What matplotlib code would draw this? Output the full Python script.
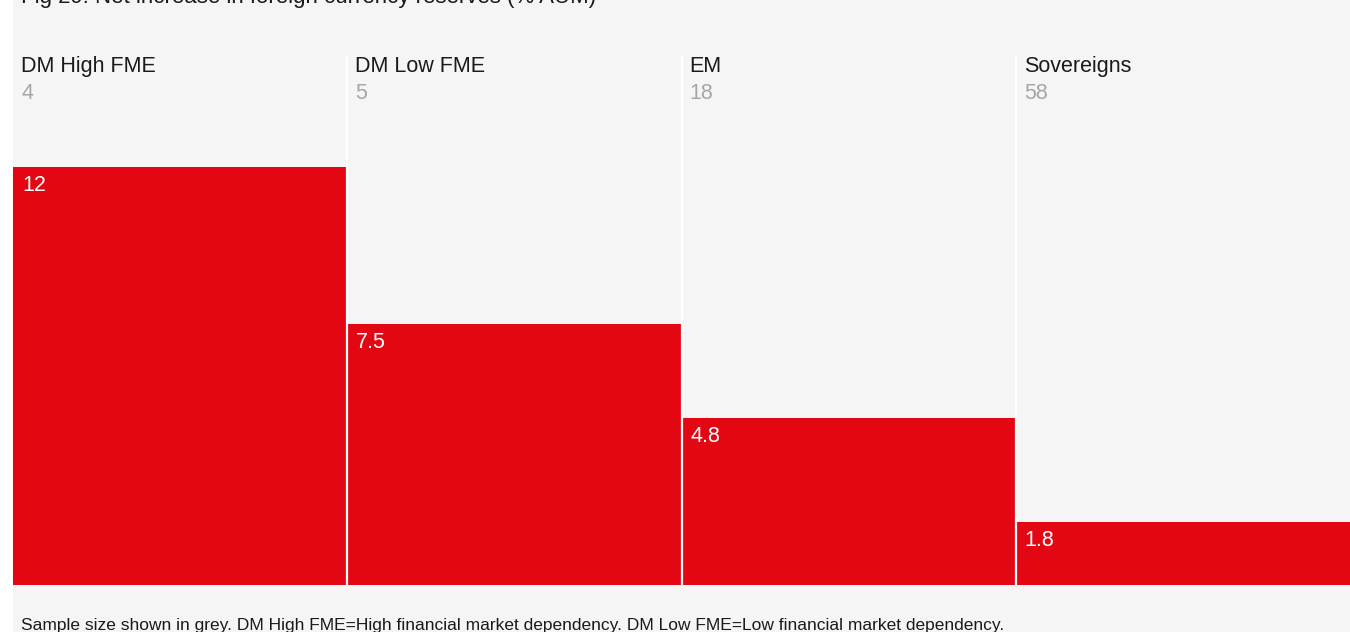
import matplotlib
matplotlib.use("Agg")
import matplotlib.pyplot as plt
from matplotlib.patches import Rectangle
import matplotlib.font_manager as fm

categories = ["DM High FME", "DM Low FME", "EM", "Sovereigns"]
sample_sizes = [4, 5, 18, 58]
values = [12, 7.5, 4.8, 1.8]
value_labels = ["12", "7.5", "4.8", "1.8"]

title = "Fig 29: Net increase in foreign currency reserves (% AUM)"
note = ("Sample size shown in grey. DM High FME=High financial market dependency. "
        "DM Low FME=Low financial market dependency.")

names = {f.name for f in fm.fontManager.ttflist}
fam = ["Liberation Sans Narrow", "DejaVu Sans"] if "Liberation Sans Narrow" in names else ["Liberation Sans", "DejaVu Sans"]
plt.rcParams["font.family"] = fam

W, H = 1350, 632
red = "#E30613"
bg = "#F5F5F5"

fig = plt.figure(figsize=(W / 100, H / 100), dpi=100, facecolor="white")
fig.patches.append(Rectangle((13 / W, 0), 1 - 13 / W, 1, transform=fig.transFigure,
                             facecolor=bg, edgecolor="none", zorder=-5))

# plot area: x 13..1350 px, y 56..585 px
ax = fig.add_axes([13 / W, (H - 585) / H, (W - 13) / W, (585 - 56) / H])
ax.set_zorder(1)
ax.set_facecolor("none")
px = 12 / (585 - 167)  # data units per pixel
ax.set_xlim(0, len(categories))
ax.set_ylim(0, (585 - 56) * px)
for s in ax.spines.values():
    s.set_visible(False)
ax.set_xticks([])
ax.set_yticks([])

x = list(range(len(categories)))
ax.bar(x, values, width=1, align="edge", color=red, zorder=1)
for i in range(1, len(categories)):
    ax.axvline(i, color="white", lw=1.6, zorder=2)

dx = 8 / ((W - 13) / len(categories))
for i, (c, n, v, vl) in enumerate(zip(categories, sample_sizes, values, value_labels)):
    ax.text(i + dx, (585 - 72) * px, c, fontsize=15.5, color="#1a1a1a", va="baseline", clip_on=False)
    ax.text(i + dx, (585 - 99) * px, str(n), fontsize=15.5, color="#a6a6a6", va="baseline", clip_on=False)
    ax.text(i + dx + 1 / 334, v - 8 * px, vl, fontsize=15.5, color="white", va="top", zorder=3)

fig.text(21 / W, 1 - 3 / H, title, fontsize=16, color="#1a1a1a", va="baseline")
fig.text(21 / W, 1 - 630 / H, note, fontsize=12.5, color="#1a1a1a", va="baseline")

fig.savefig("out.png", dpi=100, facecolor="white")
